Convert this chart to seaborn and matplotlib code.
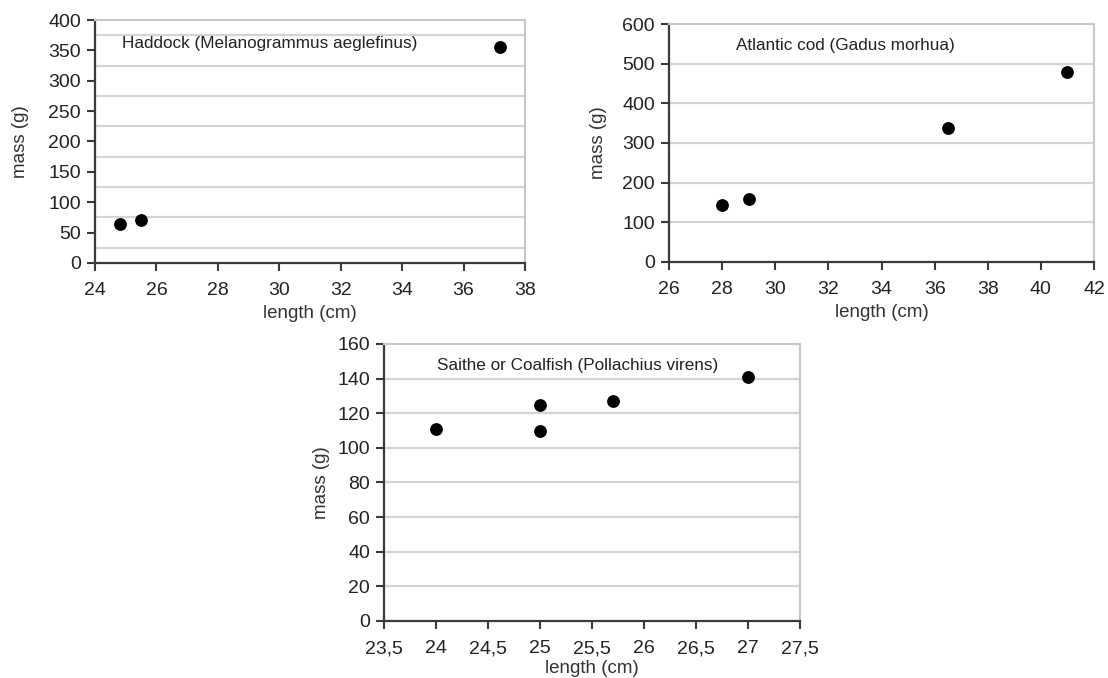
import matplotlib
matplotlib.use("Agg")
import matplotlib.pyplot as plt
import seaborn as sns
import pandas as pd
from matplotlib.ticker import FuncFormatter

# Haddock
haddock_length = [24.8, 25.5, 37.2]
haddock_mass = [64, 70, 355]

# Atlantic cod
cod_length = [28, 29, 36.5, 41]
cod_mass = [143, 158, 338, 480]

# Saithe
saithe_length = [24, 25, 25, 25.7, 27]
saithe_mass = [111, 125, 110, 127, 141]

sns.set_style("white")
plt.rcParams['font.family'] = ['Liberation Sans', 'DejaVu Sans']

grid_col = '#d4d4d4'
spine_col = '#3a3a3a'
text_col = '#222222'


def style_axes(ax, xlim, xticks, ylim, yticks, grid_y, title, tx, ty, ylab_x,
               xlab_pad=4, comma=False):
    ax.set_xlim(xlim)
    ax.set_ylim(ylim)
    ax.set_xticks(xticks)
    ax.set_yticks(yticks)
    for g in grid_y:
        ax.axhline(g, color=grid_col, lw=1.6, zorder=0)
    for side in ['left', 'bottom']:
        ax.spines[side].set_color(spine_col)
        ax.spines[side].set_linewidth(1.6)
    for side in ['top', 'right']:
        ax.spines[side].set_color('#c8c8c8')
        ax.spines[side].set_linewidth(1.5)
    ax.tick_params(axis='both', direction='out', length=6, width=1.5,
                   color=spine_col, labelsize=14, labelcolor=text_col, pad=4,
                   bottom=True, left=True)
    ax.tick_params(axis='x', pad=8)
    if comma:
        ax.xaxis.set_major_formatter(FuncFormatter(lambda v, p: ('%g' % v).replace('.', ',')))
    ax.set_xlabel('length (cm)', fontsize=13.5, color='#333333', labelpad=xlab_pad)
    ax.set_ylabel('mass (g)', fontsize=13.5, color='#333333')
    ax.yaxis.set_label_coords(ylab_x, 0.5)
    ax.text(tx, ty, title, transform=ax.transAxes, fontsize=12.3, color=text_col,
            va='center', ha='left')


fig = plt.figure(figsize=(11.08, 6.78), dpi=100)

ax1 = fig.add_axes([0.0857, 0.6121, 0.3881, 0.3584])
sns.scatterplot(x=haddock_length, y=haddock_mass, ax=ax1, color='black', s=85,
                edgecolor='black', linewidth=0, zorder=3)
style_axes(ax1, (24, 38), range(24, 39, 2), (0, 400), range(0, 401, 50),
           range(25, 400, 50), 'Haddock (Melanogrammus aeglefinus)', 0.063, 0.905, -0.153)

ax2 = fig.add_axes([0.6038, 0.6136, 0.3836, 0.3510])
sns.scatterplot(x=cod_length, y=cod_mass, ax=ax2, color='black', s=85,
                edgecolor='black', linewidth=0, zorder=3)
style_axes(ax2, (26, 42), range(26, 43, 2), (0, 600), range(0, 601, 100),
           range(100, 600, 100), 'Atlantic cod (Gadus morhua)', 0.158, 0.908, -0.146)

ax3 = fig.add_axes([0.3466, 0.0841, 0.3755, 0.4086])
sns.scatterplot(x=saithe_length, y=saithe_mass, ax=ax3, color='black', s=85,
                edgecolor='black', linewidth=0, zorder=3)
style_axes(ax3, (23.5, 27.5), [23.5 + 0.5 * i for i in range(9)], (0, 160),
           range(0, 161, 20), range(20, 160, 20),
           'Saithe or Coalfish (Pollachius virens)', 0.127, 0.924, -0.130,
           xlab_pad=2, comma=True)

fig.savefig('out.png', dpi=100)
